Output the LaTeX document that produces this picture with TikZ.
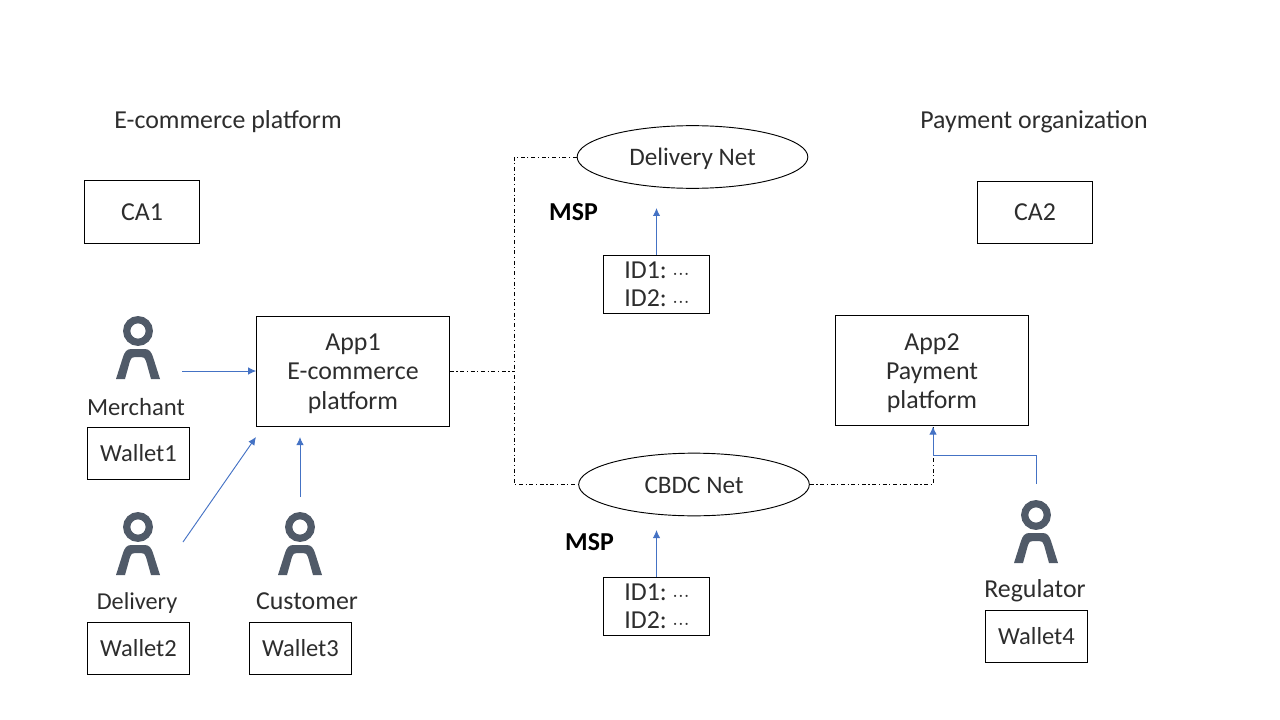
\documentclass[tikz,border=0pt]{standalone}
\usepackage{fontspec}
\setmainfont{Carlito}
\usepackage{xcolor}
\usetikzlibrary{shapes.geometric, arrows.meta, positioning}
\definecolor{linkblue}{RGB}{68, 114, 196}
\definecolor{iconslate}{RGB}{80, 90, 104}
\definecolor{inktext}{RGB}{45, 45, 45}
\newcommand{\middots}{{\fontsize{11}{11}\selectfont\kern-1pt\textperiodcentered\kern1.6pt\textperiodcentered\kern1.6pt\textperiodcentered}}
\newcommand{\droptext}{\rule{0pt}{16.5pt}}
\begin{document}
\begin{tikzpicture}[
    x=0.75pt, y=-0.75pt,
    font=\fontsize{19.4}{22}\selectfont,
    text=inktext,
    box/.style={rectangle, draw=black, line width=0.75pt, inner sep=0pt, align=center},
    singleline/.style={text height=12.4pt, text depth=0pt},
    wallet/.style={box, singleline, font=\fontsize{18.4}{22}\selectfont, minimum width=77.2pt, minimum height=39pt},
    cabox/.style={box, singleline, minimum width=85.8pt, minimum height=46.8pt},
    appbox/.style={box, minimum width=144.4pt, minimum height=82.5pt},
    idbox/.style={box, minimum width=78.8pt, minimum height=43.5pt, execute at begin node=\rule{0pt}{15pt}},
    net/.style={ellipse, draw=black, line width=0.7pt, inner sep=0pt, font=\fontsize{18.9}{22}\selectfont, text height=17pt, text depth=4pt, minimum width=173pt, minimum height=47pt},
    usernode/.style={rectangle, inner sep=0pt, minimum width=33pt, minimum height=46pt},
    arrow/.style={-{Latex[length=6pt, width=5.5pt]}, linkblue, line width=0.7pt},
    link/.style={line width=0.7pt, dash pattern=on 3pt off 2pt on 0.8pt off 2pt},
    usericon/.pic={
        \draw[iconslate, line width=5.4pt] (0,-17) circle (11.3);
        \fill[iconslate] (-22,31) -- (-15,9) .. controls (-13.5,4) and (-11,1) .. (-7,1) -- (7,1) .. controls (11,1) and (13.5,4) .. (15,9) -- (22,31) -- (13,31) -- (8,13) .. controls (7,10) and (6,9) .. (3,9) -- (-3,9) .. controls (-6,9) and (-7,10) .. (-8,13) -- (-13,31) -- cycle;
    }
]
    \useasboundingbox (0,0) rectangle (1280,720);

    \node at (228,122) (ecomtitle) {E-commerce platform};
    \node at (1034,122) (paytitle) {Payment organization};
    \node[cabox] at (142,212) (ca1) {CA1};
    \node[cabox] at (1035,212.5) (ca2) {CA2};

    \node[appbox] at (353,371) (app1) {\droptext App1\\E-commerce\\platform};
    \node[appbox] at (932,370.5) (app2) {\droptext App2\\Payment\\platform};

    \node[net] at (692.5,157) (delivnet) {Delivery Net};
    \node[net] at (694,484.5) (cbdcnet) {CBDC Net};
    \node[idbox] at (656.5,284) (ids1) {ID1: \middots\\[-1pt]ID2: \middots};
    \node[idbox] at (656.5,606) (ids2) {ID1: \middots\\[-1pt]ID2: \middots};
    \node[text=black] at (573.5,212) (msp1) {\bfseries MSP};
    \node[text=black] at (589.5,542) (msp2) {\bfseries MSP};

    % people
    \node[usernode] at (138,348) (merchant) {};
    \node[usernode] at (138,544) (delivery) {};
    \node[usernode] at (300,544) (customer) {};
    \node[usernode] at (1036,532) (regulator) {};
    \pic at (merchant) {usericon};
    \pic at (delivery) {usericon};
    \pic at (customer) {usericon};
    \pic at (regulator) {usericon};
    \node[font=\fontsize{18.5}{22}\selectfont] at (136,407) (merchantlbl) {Merchant};
    \node[font=\fontsize{18.2}{22}\selectfont] at (137,603) (deliverylbl) {Delivery};
    \node at (307,601) (customerlbl) {Customer};
    \node at (1035,591) (regulatorlbl) {Regulator};
    \node[wallet] at (138.5,453) (wallet1) {Wallet1};
    \node[wallet] at (138.5,648) (wallet2) {Wallet2};
    \node[wallet] at (300.5,648) (wallet3) {Wallet3};
    \node[wallet] at (1036.5,636) (wallet4) {Wallet4};

    \coordinate (merchantout) at (182,371);
    \coordinate (deliveryout) at (183,542);
    \coordinate (deliveryin) at (256,437);
    \coordinate (customerout) at (300,497);
    \coordinate (customerin) at (300,437);
    \coordinate (msp1in) at (656.5,208);
    \coordinate (msp2in) at (656.5,530);
    \coordinate (regout) at (1036,484);
    \coordinate (regbend) at (1036,455);
    \coordinate (app2in) at (933,426.5);
    \coordinate (trunk) at (514,371);

    \draw[link] (app1.east) -- (trunk);
    \draw[link] (delivnet.west) -- (delivnet.west -| trunk) -- (cbdcnet.west -| trunk) -- (cbdcnet.west);
    \draw[link] (cbdcnet.east) -- (cbdcnet.east -| app2in) -- (app2in);

    \draw[arrow] (merchantout) -- (merchantout -| app1.west);
    \draw[arrow] (deliveryout) -- (deliveryin);
    \draw[arrow] (customerout) -- (customerin);
    \draw[arrow] (ids1.north -| msp1in) -- (msp1in);
    \draw[arrow] (ids2.north -| msp2in) -- (msp2in);
    \draw[arrow] (regout) -- (regbend) -| (app2in);
\end{tikzpicture}
\end{document}
